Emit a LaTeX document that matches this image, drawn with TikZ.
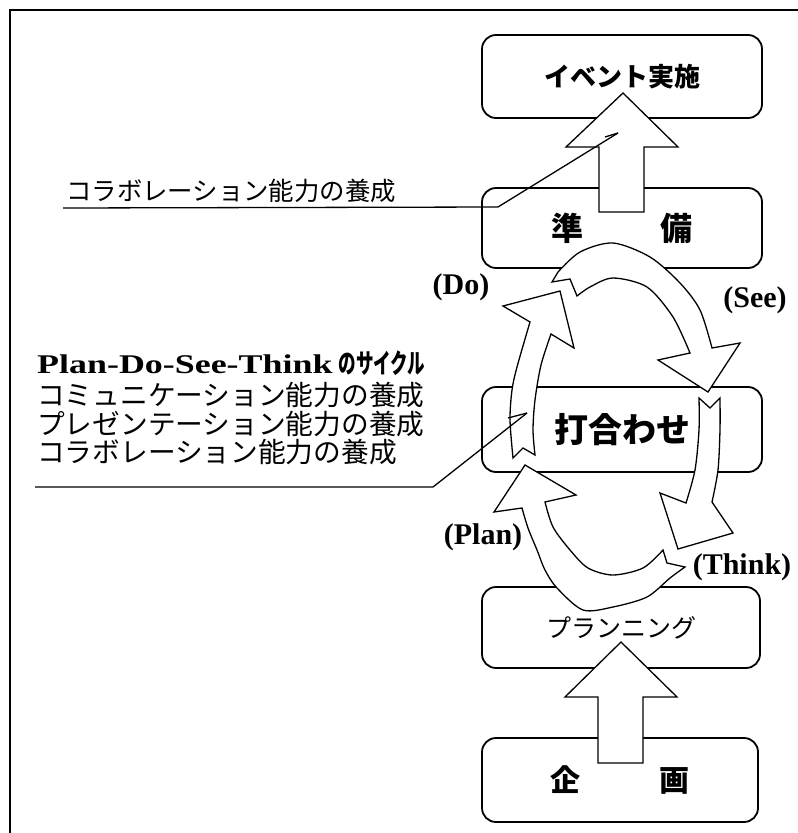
\documentclass[tikz,border=0pt]{standalone}
\usepackage{fontspec}
\usepackage{graphicx}
\setmainfont{Liberation Serif}
\newfontfamily\jp{Noto Sans CJK JP}
\begin{document}
\begin{tikzpicture}[x=1pt,y=-1pt,
  box/.style={draw, line width=1.8pt, rounded corners=14pt, inner sep=0pt},
  blk/.style={draw, fill=white, line width=1.3pt, line join=miter},
  lead/.style={draw, line width=1.3pt},
  lbl/.style={font=\bfseries\fontsize{30}{32}\selectfont, inner sep=0pt},
  jtxt/.style={font=\jp\fontsize{27.7}{30}\selectfont, inner sep=0pt, anchor=base west}]
\useasboundingbox (0,0) rectangle (798,833);
% frame
\draw[line width=1.5pt] (10,833) -- (10,10) -- (798,10);

% boxes
\node[box, minimum width=280pt, minimum height=83pt, font=\jp\bfseries\fontsize{26}{28}\selectfont] (ev) at (622,76.5) {イベント実施};
\node[box, minimum width=280pt, minimum height=80pt, font=\jp\bfseries\fontsize{32}{34}\selectfont] (jb) at (622,228) {準\hspace{77pt}備};
\node[box, minimum width=280pt, minimum height=85pt, font=\jp\bfseries\fontsize{34}{36}\selectfont] (uc) at (622,429.5) {打合わせ};
\node[box, minimum width=278pt, minimum height=81pt, font=\jp\fontsize{25}{27}\selectfont] (pl) at (621,627.5) {プランニング};
\node[box, minimum width=276pt, minimum height=84pt, font=\jp\bfseries\fontsize{30}{32}\selectfont] (kk) at (620,780) {企\hspace{80pt}画};

% straight block arrows
\path[blk] (599,212) -- (599,147) -- (566,147) -- (623,93) -- (678,147) -- (644,147) -- (644,212) -- cycle;
\path[blk] (598,763) -- (598,697) -- (565,697) -- (621,642) -- (677,697) -- (643,697) -- (643,763) -- cycle;

% curved arrows
% Do
\path[blk] plot[smooth] coordinates {(513,458) (510,420) (512,390) (517,367) (530,322)}
  -- (503,306) -- (560,291) -- (574,348) -- (551,334)
  -- plot[smooth] coordinates {(551,334) (541,365) (535,400) (533,430) (535,455)}
  -- (523,448) -- cycle;
% See
\path[blk] (552,282) -- (570,279) -- (577,296)
  -- plot[smooth] coordinates {(577,296) (590,287) (613,278) (647,287) (673,317) (690,353)}
  -- (658,360) -- (708,392) -- (740,343) -- (712,348)
  -- plot[smooth] coordinates {(712,348) (700,310) (680,283) (650,257) (613,243) (580,252) (558,272)}
  -- cycle;
% Think
\path[blk] (699,398) -- (710,408) -- (720,398)
  -- plot[smooth] coordinates {(720,398) (720,430) (718,470) (712,502)}
  -- (733,533) -- (678,549) -- (660,493) -- (686,503)
  -- plot[smooth] coordinates {(686,503) (695,470) (699,430) (699,398)}
  -- cycle;
% Plan
\path[blk] plot[smooth] coordinates {(663,550) (643,568) (613,575) (588,568) (570,550) (553,527) (545,502)}
  -- (576,495) -- (525,465) -- (494,512) -- (522,508)
  -- plot[smooth] coordinates {(522,508) (528,528) (537,550) (545,570) (557,588) (583,610) (613,607) (647,597) (670,578) (685,567)}
  -- (667,563) -- cycle;

% labels
\node[lbl] (do) at (461,287) {(Do)};
\node[lbl] (see) at (755,300) {(See)};
\node[lbl] (plan) at (483,537) {(Plan)};
\node[lbl] (think) at (742,567) {(Think)};

% texts
\node[jtxt, font=\jp\fontsize{25.4}{28}\selectfont] (t0) at (66,200.5) {コラボレーション能力の養成};
\node[inner sep=0pt, anchor=base west] (t1) at (37,373) {\fontsize{27}{30}\selectfont\bfseries\scalebox{1.33}[1]{Plan-Do-See-Think}\hspace{6pt}{\jp\bfseries\fontsize{27}{29}\selectfont\scalebox{0.65}[1]{のサイクル}}};
\node[jtxt] (t2) at (37,405.5) {コミュニケーション能力の養成};
\node[jtxt] (t3) at (37,434.5) {プレゼンテーション能力の養成};
\node[jtxt] (t4) at (37,462.5) {コラボレーション能力の養成};

% leader lines
\coordinate (a0) at (63,208);
\coordinate (a1) at (498,207);
\coordinate (a2) at (618,133);
\coordinate (a3) at (605,137);
\draw[lead] (a0) -- (a1) -- (a2);
\draw[lead] (a3) -- (a2);
\coordinate (b0) at (35,487);
\coordinate (b1) at (433,487);
\coordinate (b2) at (527,413);
\coordinate (b3) at (508,418);
\draw[lead] (b0) -- (b1) -- (b2);
\draw[lead] (b3) -- (b2);
\end{tikzpicture}
\end{document}
